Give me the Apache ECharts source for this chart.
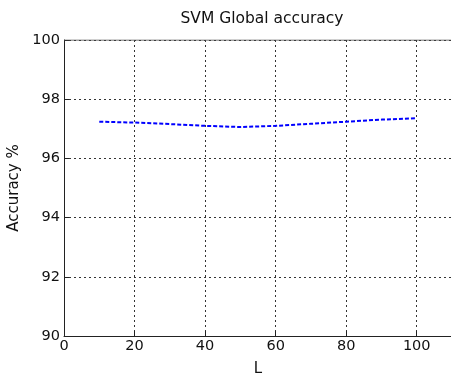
<!DOCTYPE html>
<html>
<head>
<meta charset="utf-8">
<script src="https://cdn.jsdelivr.net/npm/echarts@6/dist/echarts.min.js"></script>
<style>
  html, body { margin: 0; padding: 0; background: #fff; }
  #chart { width: 451px; height: 375px; }
</style>
</head>
<body>
<div id="chart"></div>
<script>
const lValues = [10, 20, 30, 40, 50, 60, 70, 80, 90, 100]
const accuracy = [97.24, 97.21, 97.16, 97.1, 97.06, 97.1, 97.17, 97.24, 97.31, 97.36]

const chart = echarts.init(document.getElementById('chart'))
const font = 'DejaVu Sans'
const option = {
  animation: false,
  title: {
    text: 'SVM Global accuracy',
    left: 257,
    top: 6,
    textAlign: 'center',
    textStyle: { fontFamily: font, fontSize: 15.5, fontWeight: 'normal', color: '#111' },
  },
  grid: { left: 64, top: 40, width: 388, height: 296, outerBoundsMode: 'none' },
  xAxis: {
    type: 'value',
    min: 0,
    max: 110,
    interval: 20,
    name: 'L',
    nameLocation: 'middle',
    nameGap: 26,
    nameTextStyle: { fontFamily: font, fontSize: 15, color: '#111' },
    axisLine: { lineStyle: { color: '#222', width: 1 } },
    axisTick: { inside: true, length: 5, lineStyle: { color: '#222' } },
    axisLabel: {
      fontFamily: font, fontSize: 14.5, color: '#111', margin: 3,
      formatter: (v) => (v > 100 ? '' : v),
    },
    splitLine: { show: true, lineStyle: { color: '#333', type: [2, 3], width: 1 } },
  },
  yAxis: {
    type: 'value',
    min: 90,
    max: 100,
    interval: 2,
    name: 'Accuracy %',
    nameLocation: 'middle',
    nameGap: 38,
    nameTextStyle: { fontFamily: font, fontSize: 15, color: '#111' },
    axisLine: { show: true, lineStyle: { color: '#222', width: 1 } },
    axisTick: { show: true, inside: true, length: 5, lineStyle: { color: '#222' } },
    axisLabel: { fontFamily: font, fontSize: 14.5, color: '#111', margin: 4 },
    splitLine: { show: true, lineStyle: { color: '#333', type: [2, 3], width: 1 } },
  },
  series: [
    {
      type: 'line',
      data: lValues.map((l, i) => [l, accuracy[i]]),
      showSymbol: false,
      lineStyle: { color: '#0000ff', width: 2, type: [4, 2] },
    },
    {
      // top frame line
      type: 'line',
      data: [[0, 100], [110, 100]],
      showSymbol: false,
      silent: true,
      lineStyle: { color: '#444', width: 1 },
    },
  ],
}
chart.setOption(option)
</script>
</body>
</html>
